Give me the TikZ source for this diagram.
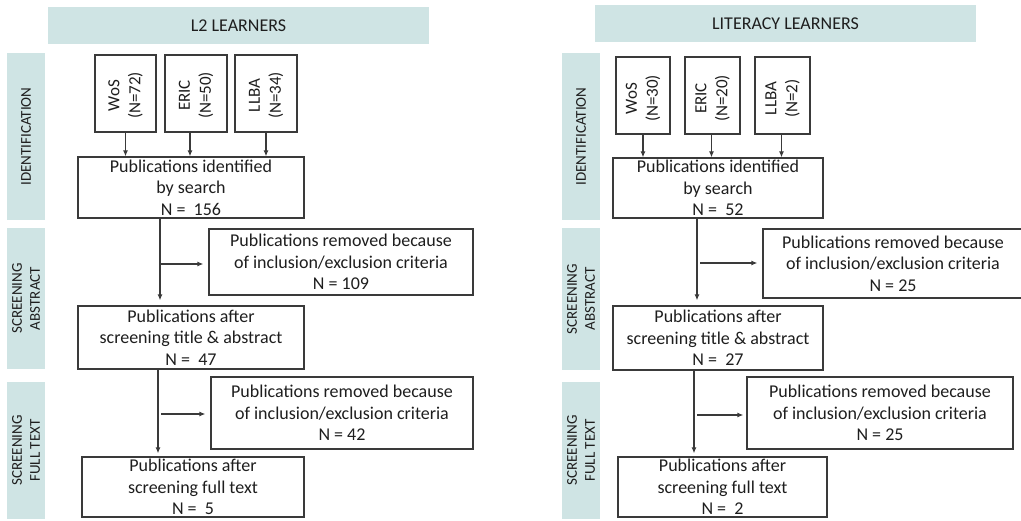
\documentclass[tikz,border=0pt]{standalone}
\usepackage{fontspec}
\setmainfont{Carlito}
\usetikzlibrary{arrows.meta}
\definecolor{band}{HTML}{CFE4E4}
\definecolor{ink}{HTML}{1E1E1E}
\definecolor{edge}{HTML}{3A3A3A}
\tikzset{
  box/.style={draw=edge, line width=1.2pt, fill=white, inner sep=0pt, align=center,
    font=\fontsize{18}{21.5}\selectfont, text=ink},
  bandbox/.style={fill=band, draw=none, inner sep=0pt},
  hdtext/.style={font=\fontsize{18}{21}\selectfont, text=ink, align=center},
  bandtext/.style={font=\fontsize{15}{18}\selectfont, text=ink, align=center},
  srctext/.style={rotate=90, font=\fontsize{17}{21}\selectfont, text=ink, align=center},
  arr/.style={draw=edge, line width=1.2pt, -{Latex[length=6pt,width=5pt]}},
  line/.style={draw=edge, line width=1.2pt},
}
% \rb{style}{name}{x1}{y1}{x2}{y2}{text}
\newcommand\rb[7]{\node[#1, minimum width={(#5-#3)*1pt}, minimum height={(#6-#4)*1pt}]
  (#2) at ({(#3+#5)/2},{(#4+#6)/2}) {#7};}
\begin{document}
\begin{tikzpicture}[x=1pt,y=-1pt]
\useasboundingbox (0,0) rectangle (1021,521);
\clip (0,0) rectangle (1021,521);
% ---------------- left panel ----------------
\rb{bandbox}{hL}{48}{7}{429}{44}{}
\node[hdtext] (hLt) at (hL) {L2 LEARNERS};
\rb{bandbox}{bL1}{7}{53}{45}{220}{}
\rb{bandbox}{bL2}{7}{228}{45}{369}{}
\rb{bandbox}{bL3}{7}{382}{45}{519}{}
\node[bandtext, rotate=90] (bL1t) at (bL1) {IDENTIFICATION};
\node[bandtext, rotate=90] (bL2t) at (bL2) {SCREENING\\ABSTRACT};
\node[bandtext, rotate=90] (bL3t) at (bL3) {SCREENING\\FULL TEXT};

\rb{box}{wosL}{95}{55}{156}{132}{}
\rb{box}{ericL}{165}{55}{227}{132}{}
\rb{box}{llbaL}{235}{55}{297}{132}{}
\node[srctext] (wosLt) at ([yshift=-2pt]wosL) {WoS\\(N=72)};
\node[srctext] (ericLt) at ([yshift=-2pt]ericL) {ERIC\\(N=50)};
\node[srctext] (llbaLt) at ([yshift=-2pt]llbaL) {LLBA\\(N=34)};

\rb{box}{idL}{78}{157}{304}{218}{Publications identified\\by search\\N =\ \ 156}
\rb{box}{rem1L}{209}{229}{473}{295}{Publications removed because\\of inclusion/exclusion criteria\\N = 109}
\rb{box}{scrL}{78}{306}{304}{369}{Publications after\\screening title \& abstract\\N =\ \ 47}
\rb{box}{rem2L}{211}{377}{473}{449}{Publications removed because\\of inclusion/exclusion criteria\\N = 42}
\rb{box}{finL}{82}{457}{304}{517}{Publications after\\screening full text\\N =\ \ 5}

\draw[arr] (wosL.south) -- (wosL.south |- idL.north);
\draw[arr] ([xshift=-6pt]ericL.south) -- ([xshift=-6pt]ericL.south |- idL.north);
\draw[arr] (llbaL.south) -- (llbaL.south |- idL.north);

\coordinate (vL1) at (160,264);
\coordinate (vL2) at (158,414);
\draw[arr, shorten >=5pt] (vL1 |- idL.south) -- (vL1 |- scrL.north);
\draw[arr, shorten >=5pt] (vL1) -- (vL1 -| rem1L.west);
\draw[arr, shorten >=3pt] (vL2 |- scrL.south) -- (vL2 |- finL.north);
\draw[arr, shorten >=5pt] ([xshift=3pt]vL2) -- (vL2 -| rem2L.west);

% ---------------- right panel ----------------
\rb{bandbox}{hR}{595}{5}{976}{42}{}
\node[hdtext] (hRt) at (hR) {LITERACY LEARNERS};
\rb{bandbox}{bR1}{562}{53}{600}{220}{}
\rb{bandbox}{bR2}{562}{228}{600}{370}{}
\rb{bandbox}{bR3}{562}{382}{600}{519}{}
\node[bandtext, rotate=90] (bR1t) at (bR1) {IDENTIFICATION};
\node[bandtext, rotate=90] (bR2t) at (bR2) {SCREENING\\ABSTRACT};
\node[bandtext, rotate=90] (bR3t) at (bR3) {SCREENING\\FULL TEXT};

\rb{box}{wosR}{616}{57}{670}{134}{}
\rb{box}{ericR}{685}{57}{740}{134}{}
\rb{box}{llbaR}{755}{57}{810}{134}{}
\node[srctext] (wosRt) at ([yshift=-3pt]wosR) {WoS\\(N=30)};
\node[srctext] (ericRt) at ([yshift=-3pt]ericR) {ERIC\\(N=20)};
\node[srctext] (llbaRt) at ([yshift=-3pt]llbaR) {LLBA\\(N=2)};

\rb{box}{idR}{613}{158}{823}{218}{Publications identified\\by search\\N =\ \ 52}
\rb{box}{rem1R}{763}{229}{1032}{298}{\hspace*{-9pt}Publications removed because\\\hspace*{-9pt}of inclusion/exclusion criteria\\\hspace*{-9pt}N = 25}
\rb{box}{scrR}{613}{306}{823}{370}{Publications after\\screening title \& abstract\\N =\ \ 27}
\rb{box}{rem2R}{747}{377}{1013}{449}{Publications removed because\\of inclusion/exclusion criteria\\N = 25}
\rb{box}{finR}{618}{457}{827}{517}{Publications after\\screening full text\\N =\ \ 2}

\draw[arr] (wosR.south) -- (wosR.south |- idR.north);
\draw[arr] ([xshift=-1pt]ericR.south) -- ([xshift=-1pt]ericR.south |- idR.north);
\draw[arr] ([xshift=-1pt]llbaR.south) -- ([xshift=-1pt]llbaR.south |- idR.north);

\coordinate (vR1) at (697,263);
\coordinate (vR2) at (694,415);
\draw[arr, shorten >=5pt] (vR1 |- idR.south) -- (vR1 |- scrR.north);
\draw[arr, shorten >=5pt] ([xshift=3pt]vR1) -- (vR1 -| rem1R.west);
\draw[arr, shorten >=3pt] (vR2 |- scrR.south) -- (vR2 |- finR.north);
\draw[arr, shorten >=3pt] ([xshift=3pt]vR2) -- (vR2 -| rem2R.west);
\end{tikzpicture}
\end{document}
